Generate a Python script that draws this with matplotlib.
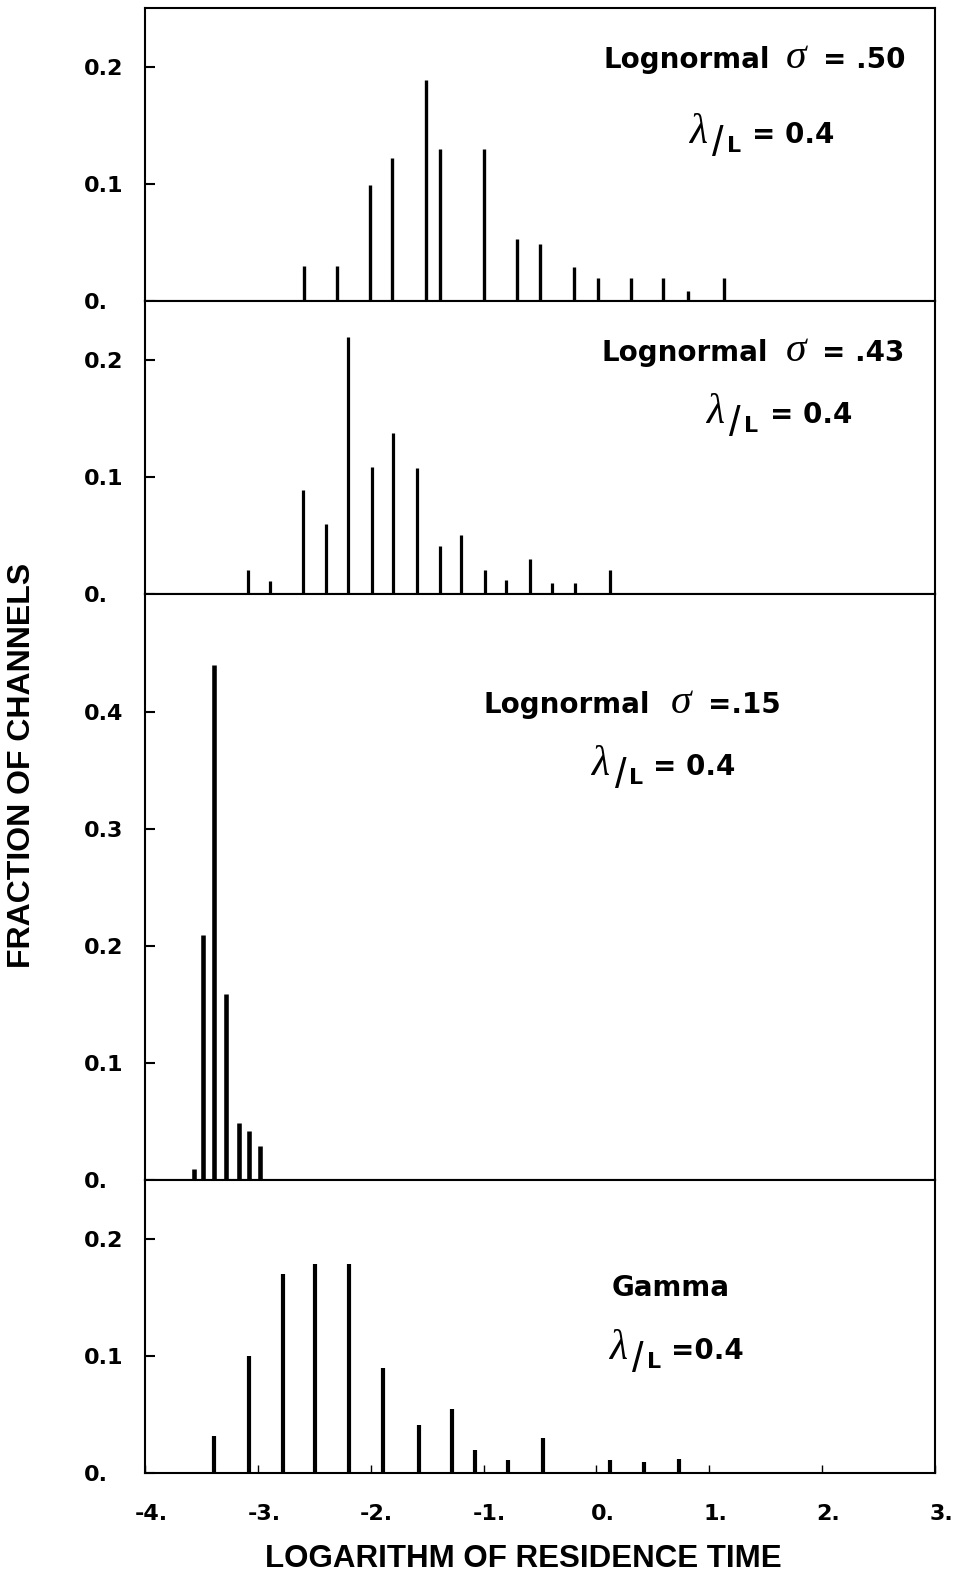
import matplotlib
matplotlib.use("Agg")
import matplotlib.pyplot as plt
from matplotlib.transforms import offset_copy, ScaledTranslation

plt.rcParams['font.family'] = ['Liberation Sans', 'DejaVu Sans']

# -----------------------------------------------------------------------------
# Data (log residence time, fraction of channels)
x_s50 = [-2.59, -2.30, -2.01, -1.81, -1.51, -1.39, -1.00, -0.70, -0.50, -0.20, 0.01, 0.31, 0.59, 0.81, 1.13]
f_s50 = [0.030, 0.030, 0.099, 0.122, 0.189, 0.130, 0.130, 0.053, 0.049, 0.029, 0.020, 0.020, 0.020, 0.009, 0.020]

x_s43 = [-3.09, -2.89, -2.60, -2.40, -2.20, -1.99, -1.80, -1.59, -1.39, -1.20, -0.99, -0.80, -0.59, -0.39, -0.19, 0.12]
f_s43 = [0.021, 0.011, 0.089, 0.060, 0.220, 0.109, 0.138, 0.108, 0.041, 0.051, 0.021, 0.012, 0.030, 0.010, 0.010, 0.021]

x_s15 = [-3.57, -3.49, -3.39, -3.28, -3.17, -3.08, -2.98]
f_s15 = [0.010, 0.209, 0.440, 0.159, 0.049, 0.042, 0.029]

x_gam = [-3.39, -3.08, -2.78, -2.49, -2.19, -1.89, -1.57, -1.28, -1.08, -0.78, -0.47, 0.12, 0.42, 0.73]
f_gam = [0.032, 0.100, 0.170, 0.179, 0.179, 0.090, 0.041, 0.055, 0.020, 0.011, 0.030, 0.011, 0.010, 0.012]

panel_names = ["Lognormal", "Lognormal", "Lognormal", "Gamma"]
panel_sigmas = ["= .50", "= .43", "=.15", None]
ratio_texts = ["= 0.4", "= 0.4", "= 0.4", "=0.4"]

xticks = [-4, -3, -2, -1, 0, 1, 2, 3]
xticklabels = ["-4.", "-3.", "-2.", "-1.", "0.", "1.", "2.", "3."]

# -----------------------------------------------------------------------------
fig = plt.figure(figsize=(9.61, 15.79), dpi=100)
gs = fig.add_gridspec(4, 1, height_ratios=[1, 1, 2, 1], hspace=0,
                      left=0.1509, right=0.973, top=0.9947, bottom=0.0669)
axes = [fig.add_subplot(gs[i]) for i in range(4)]

series = [(x_s50, f_s50, 2.4), (x_s43, f_s43, 2.3), (x_s15, f_s15, 3.3), (x_gam, f_gam, 3.0)]

# annotation layout (axes fraction): name x, sigma x, "=" x, baseline y
line1 = [(0.580, 0.811, 0.858, 0.797),
         (0.578, 0.811, 0.857, 0.797),
         (0.428, 0.665, 0.712, 0.797),
         (0.591, None, None, 0.605)]
# lambda x, baseline y, offset of "=" in pixels
line2 = [(0.688, 0.541, 63),
         (0.710, 0.584, 64),
         (0.565, 0.691, 62),
         (0.587, 0.390, 62)]

tick_font = dict(fontsize=16, fontweight='bold', family='DejaVu Sans')
note_font = dict(fontsize=20, fontweight='bold', family='DejaVu Sans')
serif_it = dict(family='Liberation Serif', style='italic')

for i, ax in enumerate(axes):
    xs, fs, lw = series[i]
    ax.vlines(xs, 0, fs, color='black', linewidth=lw)
    ax.set_xlim(-4, 3)
    if i == 2:
        ax.set_ylim(0, 0.5)
        ax.set_yticks([0, 0.1, 0.2, 0.3, 0.4], labels=["0.", "0.1", "0.2", "0.3", "0.4"],
                      ha='left', **tick_font)
    else:
        ax.set_ylim(0, 0.25)
        ax.set_yticks([0, 0.1, 0.2], labels=["0.", "0.1", "0.2"], ha='left', **tick_font)
    ax.tick_params(axis='y', direction='in', length=7, width=1.5, pad=44)
    if i == 3:
        ax.set_xticks(xticks, labels=xticklabels, **tick_font)
        ax.tick_params(axis='x', direction='in', length=6, width=1.0, pad=22)
        shift = ScaledTranslation(0.06, 0, fig.dpi_scale_trans)
        for lbl in ax.get_xticklabels():
            lbl.set_transform(lbl.get_transform() + shift)
    else:
        ax.set_xticks(xticks)
        ax.tick_params(axis='x', length=0, labelbottom=False)
    for sp in ax.spines.values():
        sp.set_linewidth(1.5)

    # distribution name and sigma
    nx, sx, ex, by = line1[i]
    ax.text(nx, by, panel_names[i], transform=ax.transAxes, ha='left', va='baseline', **note_font)
    if panel_sigmas[i] is not None:
        ax.text(sx, by, "\u03c3", transform=ax.transAxes, ha='left', va='baseline',
                fontsize=30, **serif_it)
        ax.text(ex, by, panel_sigmas[i], transform=ax.transAxes, ha='left', va='baseline',
                **note_font)

    # lambda / L = 0.4
    lx, lb, dx = line2[i]
    ax.text(lx, lb, "\u03bb", transform=ax.transAxes, ha='left', va='baseline',
            fontsize=30, **serif_it)
    ax.text(lx, lb, "/", ha='center', va='baseline', fontsize=30,
            transform=offset_copy(ax.transAxes, fig=fig, x=29, y=-13, units='dots'))
    ax.text(lx, lb, "L", ha='left', va='baseline', fontsize=16, fontweight='bold',
            family='DejaVu Sans',
            transform=offset_copy(ax.transAxes, fig=fig, x=38, y=-9, units='dots'))
    ax.text(lx, lb, ratio_texts[i], ha='left', va='baseline', **note_font,
            transform=offset_copy(ax.transAxes, fig=fig, x=dx, y=0, units='dots'))

fig.text(0.023, 0.515, "FRACTION OF CHANNELS", rotation=90, ha='center', va='center',
         fontsize=23, fontweight='bold')
fig.text(0.545, 0.0127, "LOGARITHM OF RESIDENCE TIME", ha='center', va='center',
         fontsize=22.5, fontweight='bold')

fig.savefig("out.png", dpi=100)
